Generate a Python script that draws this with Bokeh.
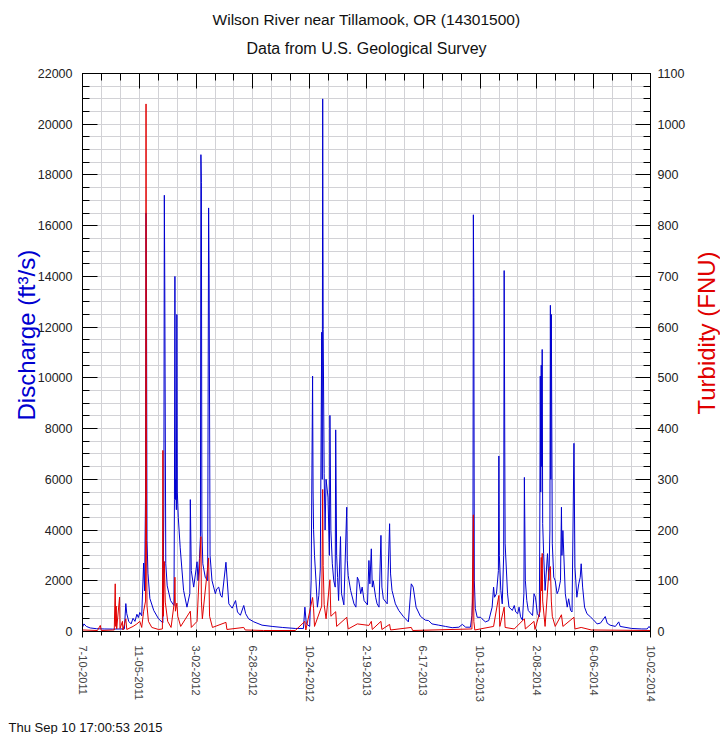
import math
import pandas as pd
from bokeh.plotting import figure
from bokeh.layouts import row, column
from bokeh.models import Range1d, LinearAxis, FixedTicker, SingleIntervalTicker, Title, Label
from bokeh.embed import file_html
from bokeh.resources import INLINE

title_text = "Wilson River near Tillamook, OR (14301500)"
subtitle_text = "Data from U.S. Geological Survey"
footer_text = "Thu Sep 10 17:00:53 2015"
left_label = "Discharge (ft\u00b3/s)"
right_label = "Turbidity (FNU)"

tick_labels = ["7-10-2011", "11-05-2011", "3-02-2012", "6-28-2012", "10-24-2012",
               "2-19-2013", "6-17-2013", "10-13-2013", "2-08-2014", "6-06-2014", "10-02-2014"]

q_dates = [
    "2011-07-10", "2011-07-13", "2011-07-18", "2011-07-26", "2011-08-08", "2011-08-24", "2011-09-10",
    "2011-09-26", "2011-10-05", "2011-10-08", "2011-10-10", "2011-10-14", "2011-10-19", "2011-10-23",
    "2011-10-27", "2011-10-31", "2011-11-03", "2011-11-06", "2011-11-10", "2011-11-14", "2011-11-16",
    "2011-11-18", "2011-11-19", "2011-11-20", "2011-11-21", "2011-11-23", "2011-11-27", "2011-12-05",
    "2011-12-15", "2011-12-24", "2011-12-26", "2011-12-27", "2011-12-28", "2011-12-30", "2012-01-02",
    "2012-01-09", "2012-01-16", "2012-01-17", "2012-01-18", "2012-01-19", "2012-01-20", "2012-01-21",
    "2012-01-22", "2012-01-23", "2012-01-25", "2012-01-29", "2012-02-05", "2012-02-12", "2012-02-18",
    "2012-02-19", "2012-02-21", "2012-02-26", "2012-03-04", "2012-03-06", "2012-03-09", "2012-03-11",
    "2012-03-12", "2012-03-13", "2012-03-14", "2012-03-16", "2012-03-21", "2012-03-26", "2012-03-28",
    "2012-03-29", "2012-03-31", "2012-04-04", "2012-04-11", "2012-04-14", "2012-04-18", "2012-04-22",
    "2012-04-25", "2012-05-03", "2012-05-09", "2012-05-16", "2012-05-23", "2012-05-27", "2012-06-02",
    "2012-06-09", "2012-06-13", "2012-06-19", "2012-06-30", "2012-07-17", "2012-08-07", "2012-08-28",
    "2012-09-24", "2012-10-11", "2012-10-14", "2012-10-17", "2012-10-24", "2012-10-27", "2012-10-30",
    "2012-10-31", "2012-11-01", "2012-11-03", "2012-11-06", "2012-11-09", "2012-11-12", "2012-11-15",
    "2012-11-18", "2012-11-19", "2012-11-20", "2012-11-21", "2012-11-23", "2012-11-25", "2012-11-27",
    "2012-12-01", "2012-12-04", "2012-12-05", "2012-12-07", "2012-12-10", "2012-12-13", "2012-12-16",
    "2012-12-17", "2012-12-19", "2012-12-21", "2012-12-23", "2012-12-27", "2012-12-29", "2013-01-03",
    "2013-01-09", "2013-01-10", "2013-01-12", "2013-01-17", "2013-01-24", "2013-01-28", "2013-01-31",
    "2013-02-03", "2013-02-07", "2013-02-10", "2013-02-14", "2013-02-21", "2013-02-24", "2013-02-26",
    "2013-03-01", "2013-03-03", "2013-03-05", "2013-03-10", "2013-03-13", "2013-03-17", "2013-03-21",
    "2013-03-23", "2013-03-26", "2013-04-03", "2013-04-08", "2013-04-10", "2013-04-13", "2013-04-20",
    "2013-04-27", "2013-05-07", "2013-05-17", "2013-05-23", "2013-05-27", "2013-06-02", "2013-06-11",
    "2013-06-21", "2013-06-28", "2013-07-05", "2013-07-19", "2013-08-02", "2013-08-16", "2013-08-30",
    "2013-09-06", "2013-09-13", "2013-09-23", "2013-09-26", "2013-09-28", "2013-09-29", "2013-09-30",
    "2013-10-01", "2013-10-03", "2013-10-07", "2013-10-14", "2013-10-17", "2013-10-24", "2013-10-31",
    "2013-11-07", "2013-11-10", "2013-11-12", "2013-11-16", "2013-11-20", "2013-11-21", "2013-11-22",
    "2013-11-25", "2013-11-28", "2013-12-01", "2013-12-02", "2013-12-04", "2013-12-09", "2013-12-12",
    "2013-12-16", "2013-12-19", "2013-12-23", "2013-12-26", "2013-12-30", "2014-01-02", "2014-01-05",
    "2014-01-09", "2014-01-12", "2014-01-13", "2014-01-15", "2014-01-18", "2014-01-21", "2014-01-30",
    "2014-02-02", "2014-02-05", "2014-02-09", "2014-02-13", "2014-02-14", "2014-02-15", "2014-02-16",
    "2014-02-17", "2014-02-18", "2014-02-19", "2014-02-20", "2014-02-22", "2014-02-25", "2014-03-02",
    "2014-03-05", "2014-03-07", "2014-03-08", "2014-03-09", "2014-03-10", "2014-03-12", "2014-03-15",
    "2014-03-18", "2014-03-22", "2014-03-25", "2014-03-29", "2014-03-31", "2014-04-01", "2014-04-03",
    "2014-04-08", "2014-04-12", "2014-04-15", "2014-04-19", "2014-04-22", "2014-04-26", "2014-04-28",
    "2014-05-02", "2014-05-06", "2014-05-09", "2014-05-11", "2014-05-14", "2014-05-18", "2014-05-23",
    "2014-05-30", "2014-06-06", "2014-06-13", "2014-06-20", "2014-06-30", "2014-07-04", "2014-07-10",
    "2014-07-21", "2014-07-28", "2014-07-31", "2014-08-24", "2014-09-14", "2014-09-25", "2014-09-29",
    "2014-10-02",
]
q_vals = [
    170, 300, 200, 140, 110, 100, 95,
    100, 100, 1100, 700, 400, 300, 520,
    400, 680, 550, 750, 620, 2700, 1600,
    5500, 16500, 13100, 3600, 2300, 1300, 830,
    500, 340, 5000, 17200, 13500, 2670, 1800,
    1220, 1025, 5200, 14000, 5200, 6000, 4800,
    12500, 5500, 4500, 3300, 1620, 960, 1500,
    5200, 2400, 1750, 2750, 2000, 2880, 3740,
    18800, 17700, 4000, 2670, 2140, 2000, 16700,
    14100, 3000, 2010, 1490, 1680, 1750, 1420,
    1350, 2730, 1090, 920, 1220, 770, 640,
    1025, 700, 500, 380, 250, 200, 160,
    120, 120, 960, 300, 200, 2010, 10070,
    5580, 4030, 3000, 2010, 960, 1420, 2470,
    11800, 6000, 21000, 11900, 6220, 4000, 6000,
    5300, 3000, 8520, 3980, 2670, 2000, 1750,
    7950, 3000, 2130, 1220, 3740, 1500, 1050,
    4900, 2800, 2200, 1620, 1090, 960, 2140,
    2000, 1490, 1750, 1220, 1050, 2800, 1880,
    3260, 1750, 2000, 1350, 1090, 960, 3790,
    1750, 1290, 1090, 4250, 2270, 1620, 1090,
    830, 580, 380, 1880, 1750, 960, 600,
    450, 430, 300, 250, 200, 150, 170,
    280, 170, 170, 630, 1500, 16430, 13180,
    2000, 900, 560, 560, 500, 380, 430,
    960, 1750, 1350, 1490, 2400, 6920, 3000,
    1620, 1090, 3000, 14230, 3460, 1490, 960,
    890, 830, 1025, 770, 700, 960, 580,
    450, 1500, 6075, 2010, 1220, 830, 630,
    1490, 1350, 700, 580, 4000, 10070, 5500,
    10500, 6500, 11120, 4250, 3070, 1620, 3070,
    2010, 4000, 12860, 6000, 12500, 3460, 2140,
    2010, 1490, 1620, 2010, 4900, 3000, 3980,
    1490, 960, 1290, 830, 770, 7420, 2540,
    1350, 1880, 2140, 2670, 1750, 960, 700,
    580, 450, 300, 330, 590, 330, 250,
    200, 380, 200, 120, 100, 100, 200,
    120,
]

t_dates = [
    "2011-07-10", "2011-08-10", "2011-08-16", "2011-08-18", "2011-09-14", "2011-09-16", "2011-09-17",
    "2011-09-18", "2011-09-19", "2011-09-25", "2011-09-26", "2011-10-01", "2011-10-02", "2011-10-08",
    "2011-10-10", "2011-10-23", "2011-10-31", "2011-11-06", "2011-11-10", "2011-11-14", "2011-11-18",
    "2011-11-19", "2011-11-20", "2011-11-21", "2011-11-24", "2011-12-01", "2011-12-15", "2011-12-23",
    "2011-12-24", "2011-12-25", "2011-12-27", "2011-12-29", "2012-01-03", "2012-01-10", "2012-01-17",
    "2012-01-18", "2012-01-19", "2012-01-22", "2012-01-24", "2012-01-30", "2012-02-19", "2012-02-21",
    "2012-03-04", "2012-03-12", "2012-03-13", "2012-03-15", "2012-03-28", "2012-03-30", "2012-04-05",
    "2012-05-03", "2012-05-05", "2012-06-09", "2012-06-12", "2012-07-20", "2012-09-24", "2012-10-14",
    "2012-10-16", "2012-10-30", "2012-11-01", "2012-11-03", "2012-11-18", "2012-11-20", "2012-11-21",
    "2012-11-23", "2012-11-27", "2012-12-05", "2012-12-07", "2012-12-17", "2012-12-19", "2013-01-09",
    "2013-01-12", "2013-01-31", "2013-02-24", "2013-03-01", "2013-03-03", "2013-03-21", "2013-03-23",
    "2013-04-08", "2013-04-10", "2013-05-23", "2013-05-26", "2013-09-26", "2013-09-29", "2013-09-30",
    "2013-10-02", "2013-11-10", "2013-11-21", "2013-11-23", "2013-12-02", "2013-12-04", "2013-12-23",
    "2014-01-13", "2014-01-15", "2014-02-02", "2014-02-04", "2014-02-15", "2014-02-17", "2014-02-18",
    "2014-02-19", "2014-02-20", "2014-02-25", "2014-03-05", "2014-03-08", "2014-03-10", "2014-03-12",
    "2014-03-18", "2014-03-31", "2014-04-03", "2014-04-26", "2014-04-28", "2014-05-11", "2014-06-01",
    "2014-10-02",
]
t_vals = [
    3, 2, 12, 2, 3, 94, 10,
    50, 5, 68, 6, 20, 3, 25,
    4, 10, 15, 20, 8, 40, 60,
    1040, 180, 50, 20, 8, 4, 5,
    357, 30, 138, 58, 20, 8, 60,
    107, 40, 56, 30, 10, 40, 8,
    20, 187, 60, 25, 145, 30, 8,
    18, 4, 8, 3, 2, 2, 20,
    3, 67, 46, 10, 50, 280, 130,
    53, 25, 102, 30, 39, 10, 28,
    5, 15, 12, 20, 4, 20, 4,
    14, 3, 8, 2, 5, 230, 20,
    3, 10, 71, 10, 48, 8, 5,
    25, 5, 20, 4, 41, 146, 80,
    154, 60, 10, 120, 128, 60, 30,
    10, 33, 10, 28, 5, 8, 3,
    2,
]

# ---- conversions (days since first tick) ----
origin = pd.to_datetime(tick_labels[0], format="%m-%d-%Y")


def to_days(dates):
    return [(d - origin) / pd.Timedelta(days=1) for d in pd.to_datetime(dates)]


tick_pos = [int(round((pd.to_datetime(t, format="%m-%d-%Y") - origin) / pd.Timedelta(days=1)))
            for t in tick_labels]
minor_pos = []
for a, b in zip(tick_pos[:-1], tick_pos[1:]):
    minor_pos += [a + (b - a) / 3.0, a + 2 * (b - a) / 3.0]

qx = to_days(q_dates)
tx = to_days(t_dates)

FONT = "Liberation Sans"
BLUE = "#0000d0"
RED = "#e00000"
GRID = "#d2d2d6"
TXT = "#111111"

W_MAIN, H_MAIN = 690, 714
W_SIDE = 720 - W_MAIN
H_FOOT = 734 - H_MAIN

p = figure(width=W_MAIN, height=H_MAIN, output_backend="svg", toolbar_location=None,
           x_range=Range1d(tick_pos[0], tick_pos[-1]), y_range=Range1d(0, 22000),
           min_border_left=82, min_border_right=40, min_border_top=73, min_border_bottom=83)
p.extra_y_ranges = {"turb": Range1d(0, 1100)}
p.outline_line_color = "black"
p.background_fill_color = "white"
p.border_fill_color = "white"

xticker = FixedTicker(ticks=tick_pos, minor_ticks=minor_pos)
yticker = SingleIntervalTicker(interval=2000, num_minor_ticks=4)
rticker = SingleIntervalTicker(interval=100, num_minor_ticks=4)

p.xaxis.ticker = xticker
p.yaxis.ticker = yticker
p.xgrid.ticker = xticker
p.ygrid.ticker = yticker
for g in (p.xgrid, p.ygrid):
    g.grid_line_color = GRID
    g.minor_grid_line_color = GRID
    g.grid_line_width = 1
    g.minor_grid_line_width = 1

p.xaxis.major_label_overrides = {tp: lab for tp, lab in zip(tick_pos, tick_labels)}
p.xaxis.major_label_orientation = "vertical"
p.xaxis.major_label_standoff = 8

top_axis = LinearAxis(ticker=xticker, major_label_overrides={tp: "" for tp in tick_pos})
right_axis = LinearAxis(y_range_name="turb", ticker=rticker)
p.add_layout(top_axis, "above")
p.add_layout(right_axis, "right")

for ax in (p.xaxis[0], p.yaxis[0], top_axis, right_axis):
    ax.axis_line_color = "black"
    ax.major_tick_line_color = "black"
    ax.minor_tick_line_color = "black"
    ax.major_tick_in = 15
    ax.major_tick_out = 0
    ax.minor_tick_in = 7
    ax.minor_tick_out = 0
    ax.major_label_text_font = FONT
    ax.major_label_text_font_size = "12.5px"
    ax.major_label_text_color = "#222222"

top_axis.major_label_text_font_size = "0px"
top_axis.major_label_standoff = 0
p.yaxis.major_label_standoff = 10
right_axis.major_label_standoff = 7

p.line(qx, q_vals, line_color=BLUE, line_width=1)
p.line(tx, t_vals, line_color=RED, line_width=1, y_range_name="turb")

# titles and the left axis name as side-panel titles
p.add_layout(Title(text=subtitle_text, align="center", text_font=FONT, text_font_size="16px",
                   text_font_style="normal", text_color=TXT, standoff=34), "above")
p.add_layout(Title(text=title_text, align="center", text_font=FONT, text_font_size="15.5px",
                   text_font_style="normal", text_color=TXT, standoff=-15), "above")
p.add_layout(Title(text=left_label, align="left", text_font=FONT, text_font_size="24px",
                   text_font_style="normal", text_color=BLUE, standoff=-10, offset=211), "left")

# narrow strip on the right holding the turbidity axis name (reads upward)
side = figure(width=W_SIDE, height=H_MAIN, output_backend="svg", toolbar_location=None,
              x_range=Range1d(0, W_SIDE), y_range=Range1d(0, H_MAIN),
              x_axis_location=None, y_axis_location=None, min_border=0)
side.outline_line_color = None
side.grid.visible = False
side.add_layout(Label(x=16, y=H_MAIN - 332, text=right_label, angle=math.pi / 2,
                      text_align="center", text_baseline="middle", text_font=FONT,
                      text_font_size="24px", text_color=RED))

# strip at the bottom holding the time stamp
foot = figure(width=720, height=H_FOOT, output_backend="svg", toolbar_location=None,
              x_range=Range1d(0, 720), y_range=Range1d(0, H_FOOT),
              x_axis_location=None, y_axis_location=None, min_border=0)
foot.outline_line_color = None
foot.grid.visible = False
foot.add_layout(Label(x=8, y=H_FOOT - 13, text=footer_text, text_align="left",
                      text_baseline="middle", text_font=FONT, text_font_size="13px",
                      text_color=TXT))

layout = column(row(p, side, spacing=0), foot, spacing=0)
open("out.html", "w").write(file_html(layout, INLINE))
